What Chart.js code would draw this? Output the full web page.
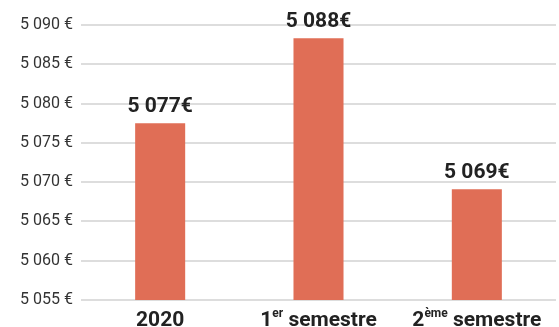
<!DOCTYPE html>
<html><head><meta charset="utf-8">
<script src="https://cdn.jsdelivr.net/npm/chart.js@4"></script>
<style>html,body{margin:0;padding:0;background:#fff}#w{width:559px;height:327px}</style>
</head><body><div id="w"><canvas id="c"></canvas></div>
<script>
const categories = ["2020", "1er semestre", "2ème semestre"];
const labelMain = ["2020", "1", "2"];
const labelSup = ["", "er", "ème"];
const labelRest = ["", " semestre", " semestre"];
const values = [5077.5, 5088.3, 5069.1];
const valueLabels = ["5 077€", "5 088€", "5 069€"];
const yMin = 5055, yMax = 5090, yStep = 5;

const FONT = "Roboto, 'Liberation Sans', sans-serif";
const fmt = v => String(v).replace(/\B(?=(\d{3})+(?!\d))/g, " ") + " €";

const overlay = {
  id: 'overlay',
  afterDatasetsDraw(chart) {
    const ctx = chart.ctx;
    const meta = chart.getDatasetMeta(0);
    ctx.save();
    ctx.fillStyle = '#222';
    ctx.textAlign = 'center';
    ctx.textBaseline = 'bottom';
    ctx.font = "bold 21px " + FONT;
    meta.data.forEach((bar, i) => {
      ctx.fillText(valueLabels[i], bar.x, bar.y - 6);
    });
    const xs = chart.scales.x;
    const yBase = chart.chartArea.bottom + 26;
    ctx.textAlign = 'left';
    ctx.textBaseline = 'alphabetic';
    categories.forEach((c, i) => {
      const cx = xs.getPixelForTick(i);
      const big = "bold 21px " + FONT, small = "bold 12px " + FONT;
      ctx.font = big; const w1 = ctx.measureText(labelMain[i]).width;
      const w3 = ctx.measureText(labelRest[i]).width;
      ctx.font = small; const w2 = ctx.measureText(labelSup[i]).width;
      let x = cx - (w1 + w2 + w3) / 2;
      ctx.font = big; ctx.fillText(labelMain[i], x, yBase); x += w1;
      ctx.font = small; ctx.fillText(labelSup[i], x, yBase - 9); x += w2;
      ctx.font = big; ctx.fillText(labelRest[i], x, yBase);
    });
    ctx.restore();
  }
};

new Chart(document.getElementById('c'), {
  type: 'bar',
  data: {
    labels: categories,
    datasets: [{
      data: values,
      backgroundColor: '#E06E56',
      borderWidth: 0,
      barPercentage: 0.316,
      categoryPercentage: 1
    }]
  },
  options: {
    responsive: true,
    maintainAspectRatio: false,
    animation: false,
    layout: { padding: { top: 25, right: 3, left: 0, bottom: 0 } },
    plugins: { legend: { display: false }, tooltip: { enabled: false } },
    scales: {
      x: {
        grid: { display: false, drawTicks: false },
        border: { display: false },
        ticks: { display: false },
        afterFit(s) { s.height = 27; }
      },
      y: {
        min: yMin, max: yMax,
        grid: { color: '#dddddd', lineWidth: 2, drawTicks: false },
        border: { display: false },
        ticks: {
          stepSize: yStep,
          padding: 8,
          color: '#333',
          font: { family: FONT, size: 16 },
          callback: v => fmt(v)
        },
        afterFit(s) { s.width = 81; }
      }
    }
  },
  plugins: [overlay]
});
</script>
</body></html>
